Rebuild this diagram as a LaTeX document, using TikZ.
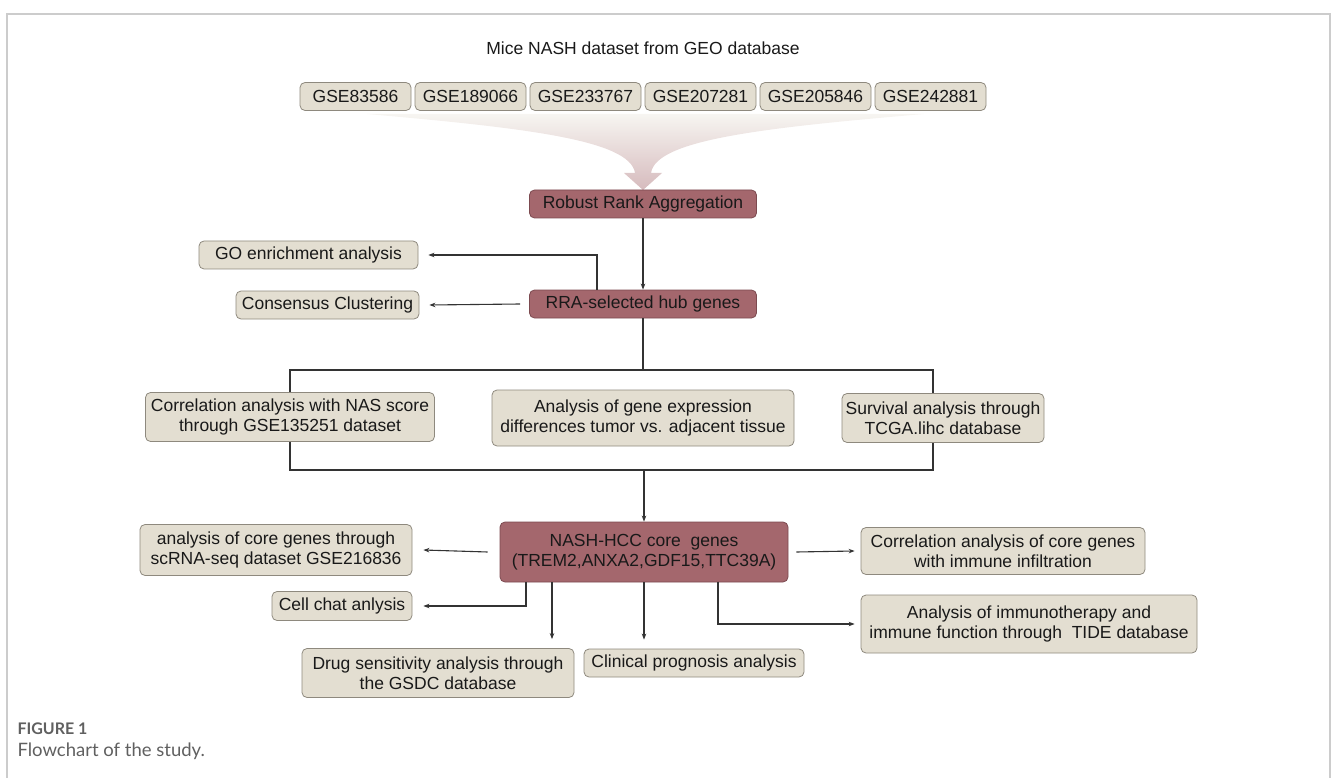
\documentclass[tikz,border=0pt]{standalone}
\usepackage{fontspec}
\setmainfont{Liberation Sans}
\newfontfamily\capfont{Lato}
\usetikzlibrary{arrows.meta}

\definecolor{boxfill}{HTML}{E3DED1}
\definecolor{boxline}{HTML}{8E897E}
\definecolor{keyfill}{HTML}{A4676D}
\definecolor{keyline}{HTML}{7C4A50}
\definecolor{linegray}{HTML}{333333}
\definecolor{framegray}{HTML}{CCCCCC}
\definecolor{capgray}{HTML}{606060}

\begin{document}
\begin{tikzpicture}[x=1pt,y=-1pt,
  every node/.style={font=\fontsize{17.5}{20.5}\selectfont, text=black!90},
  gbox/.style={draw=boxline, fill=boxfill, rounded corners=5pt, line width=0.8pt,
    inner sep=0pt, align=center},
  kbox/.style={draw=keyline, fill=keyfill, rounded corners=5pt, line width=0.8pt,
    inner sep=0pt, align=center},
  wire/.style={draw=linegray, line width=1.1pt},
  link/.style={wire, -{Stealth[length=6pt,width=4.5pt]}}]
\useasboundingbox (0,0) rectangle (1331,778);

% frame
\draw[framegray, line width=1.5pt] (7,778) -- (7,14) -- (1330,14) -- (1330,778);

% datasets
\node (title) at (643,48) {Mice NASH dataset from GEO database};
\foreach \id [count=\k] in {83586,189066,233767,207281,205846,242881}
  \node[gbox, minimum width=111pt, minimum height=28pt] (gse\k) at (240.5+115*\k,96.5) {GSE\id};

% funnel into RRA
\shade[top color=boxfill!30, bottom color=keyfill!45, draw=none]
  (367,114) -- (924,114)
  .. controls (760,128) and (656,140) .. (651,173)
  -- (662,173) -- (643,190) -- (624,173) -- (635,173)
  .. controls (630,140) and (526,128) .. (367,114) -- cycle;

\node[kbox, minimum width=227pt, minimum height=28pt] (rra) at (643,204) {Robust Rank Aggregation};
\node[kbox, minimum width=227pt, minimum height=28pt] (hub) at (643,304) {RRA-selected hub genes};
\node[gbox, minimum width=219pt, minimum height=28pt] (go) at (308.5,255) {GO enrichment analysis};
\node[gbox, minimum width=183pt, minimum height=28pt] (cons) at (327.5,305) {Consensus Clustering};

\draw[link] (rra) -- (hub);
\draw[link] ([xshift=-46pt]hub.north) |- ([xshift=10pt]go.east);
\draw[link] ([xshift=-9pt]hub.west) -- ([xshift=10pt]cons.east);

% three parallel analyses
\node[gbox, minimum width=289pt, minimum height=49pt] (nas) at (290,417)
  {Correlation analysis with NAS score\\through GSE135251 dataset};
\node[gbox, minimum width=302pt, minimum height=56pt] (diff) at (643,418)
  {Analysis of gene expression\\differences tumor vs. adjacent tissue};
\node[gbox, minimum width=202pt, minimum height=49pt] (surv) at (943,418)
  {Survival analysis through\\TCGA.lihc database};

\coordinate (splitl) at (290,370);
\coordinate (splitr) at (933,370);
\coordinate (joinl) at (290,470);
\coordinate (joinr) at (933,470);
\draw[wire] (hub.south) -- (hub.south |- splitl);
\draw[wire] (nas.north) -- (splitl) -- (splitr) -- (splitr |- surv.north);
\draw[wire] (nas.south) -- (joinl) -- (joinr) -- (joinr |- surv.south);

% core genes
\node[kbox, minimum width=288pt, minimum height=60pt] (core) at (644,552)
  {NASH-HCC core\ \ genes\\(TREM2,ANXA2,GDF15,TTC39A)};
\draw[link] (core.north |- joinl) -- (core.north);

\node[gbox, minimum width=272pt, minimum height=51pt] (scrna) at (276,550)
  {analysis of core genes through\\scRNA-seq dataset GSE216836};
\node[gbox, minimum width=140pt, minimum height=29pt] (chat) at (342,606) {Cell chat anlysis};
\node[gbox, minimum width=272pt, minimum height=49pt] (drug) at (438,673)
  {Drug sensitivity analysis through\\the GSDC database};
\node[gbox, minimum width=220pt, minimum height=28pt] (prog) at (694,663) {Clinical prognosis analysis};
\node[gbox, minimum width=284pt, minimum height=47pt] (immu) at (1003,551)
  {Correlation analysis of core genes\\with immune infiltration};
\node[gbox, minimum width=336pt, minimum height=58pt] (tide) at (1029,624)
  {Analysis of immunotherapy and\\immune function through\ \ TIDE database};

\draw[link] ([xshift=-12pt]core.west) -- ([xshift=11pt]scrna.east);
\draw[link] ([xshift=-118pt]core.south) |- ([xshift=11pt]chat.east);
\draw[link] ([xshift=-92pt]core.south) -- ([xshift=-92pt,yshift=9pt]core.south |- drug.north);
\draw[link] (core.south) -- ([yshift=9pt]core.south |- prog.north);
\draw[link] ([xshift=8pt]core.east) -- ([xshift=-6pt]immu.west);
\draw[link] ([xshift=74pt]core.south) |- ([xshift=-6pt]tide.west);

% caption
\node[anchor=west, font=\capfont\bfseries\fontsize{16}{18}\selectfont, text=capgray] (fig) at (14,729) {FIGURE 1};
\node[anchor=west, font=\capfont\fontsize{18.5}{21}\selectfont, text=capgray] (cap) at (14,751) {Flowchart of the study.};
\end{tikzpicture}
\end{document}
